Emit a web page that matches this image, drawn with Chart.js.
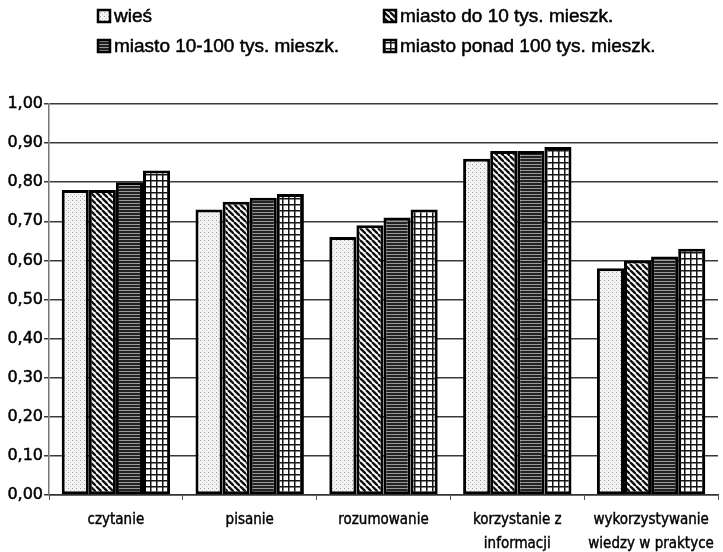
<!DOCTYPE html>
<html>
<head>
<meta charset="utf-8">
<script src="https://cdn.jsdelivr.net/npm/chart.js@4.4.1/dist/chart.umd.min.js"></script>
<style>
  html, body { margin: 0; padding: 0; background: #fff; }
  #wrap { width: 723px; height: 552px; position: relative; }
</style>
</head>
<body>
<div id="wrap"><canvas id="c" width="723" height="552"></canvas></div>
<script>
// Skill categories (x axis)
const categories = [
  'czytanie',
  'pisanie',
  'rozumowanie',
  ['korzystanie z', 'informacji'],
  ['wykorzystywanie', 'wiedzy w praktyce']
];

// Place-of-residence series
const seriesNames = [
  'wieś',
  'miasto do 10 tys. mieszk.',
  'miasto 10-100 tys. mieszk.',
  'miasto ponad 100 tys. mieszk.'
];
const wies         = [0.78, 0.73, 0.66, 0.86, 0.58];
const miastoDo10   = [0.78, 0.75, 0.69, 0.88, 0.60];
const miasto10_100 = [0.80, 0.76, 0.71, 0.88, 0.61];
const miastoPonad  = [0.83, 0.77, 0.73, 0.89, 0.63];

const yTicks = [0, 0.1, 0.2, 0.3, 0.4, 0.5, 0.6, 0.7, 0.8, 0.9, 1.0];

// --- fill patterns (black & white print style) ---
function makePattern(size, draw) {
  const c = document.createElement('canvas');
  c.width = size; c.height = size;
  const g = c.getContext('2d');
  draw(g, size);
  return g.createPattern(c, 'repeat');
}
const ctxMain = document.getElementById('c').getContext('2d');

const dotted = makePattern(4, (g, s) => {
  g.fillStyle = '#f3f3f3'; g.fillRect(0, 0, s, s);
  g.fillStyle = '#9a9a9a'; g.fillRect(0, 0, 1, 1);
  g.fillStyle = '#c8c8c8'; g.fillRect(2, 2, 1, 1);
});
const diagonal = makePattern(6, (g, s) => {
  g.fillStyle = '#fff'; g.fillRect(0, 0, s, s);
  g.strokeStyle = '#111'; g.lineWidth = 2.4;
  for (let k = -1; k <= 1; k++) {
    g.beginPath();
    g.moveTo(k * s, 0); g.lineTo(k * s + s, s);
    g.stroke();
  }
});
const horizontal = makePattern(3, (g, s) => {
  g.fillStyle = '#9a9a9a'; g.fillRect(0, 0, s, s);
  g.fillStyle = '#222'; g.fillRect(0, 0, s, 2);
});
const grid = makePattern(6, (g, s) => {
  g.fillStyle = '#fff'; g.fillRect(0, 0, s, s);
  g.fillStyle = '#151515';
  g.fillRect(0, 0, s, 1.5);
  g.fillRect(0, 0, 1.5, s);
});
const fills = [dotted, diagonal, horizontal, grid];
const seriesData = [wies, miastoDo10, miasto10_100, miastoPonad];

// Two-column legend above the plot
const legendPlugin = {
  id: 'twoColLegend',
  afterDraw(chart) {
    const g = chart.ctx;
    const pos = [[97, 16], [383, 16], [97, 46], [383, 46]];
    g.save();
    g.font = '19px "Liberation Sans", Arial, sans-serif';
    g.textBaseline = 'middle';
    chart.data.datasets.forEach((ds, i) => {
      const [x, y] = pos[i];
      g.fillStyle = ds.backgroundColor;
      g.fillRect(x, y - 7, 14, 14);
      g.strokeStyle = '#000'; g.lineWidth = 2.5;
      g.strokeRect(x + 1, y - 6, 12, 12);
      g.fillStyle = '#000';
      g.strokeStyle = '#000'; g.lineWidth = 0.5;
      g.fillText(ds.label, x + 17, y + 1);
      g.strokeText(ds.label, x + 17, y + 1);
    });
    g.restore();
  }
};

new Chart(ctxMain, {
  type: 'bar',
  data: {
    labels: categories,
    datasets: seriesNames.map((name, i) => ({
      label: name,
      data: seriesData[i],
      backgroundColor: fills[i],
      borderColor: '#000',
      borderWidth: 3,
      borderSkipped: false,
      categoryPercentage: 0.81,
      barPercentage: 1.0
    }))
  },
  options: {
    responsive: false,
    animation: false,
    layout: { padding: { top: 104, right: 5, left: 0, bottom: 0 } },
    plugins: { legend: { display: false }, tooltip: { enabled: false } },
    scales: {
      x: {
        afterFit(scale) { scale.height = 57; },
        grid: { drawOnChartArea: false, offset: true, tickLength: 5, color: '#555', lineWidth: 1 },
        border: { display: true, color: '#333', width: 1.5 },
        ticks: {
          color: '#000',
          padding: 8,
          maxRotation: 0,
          autoSkip: false,
          textStrokeColor: '#000',
          textStrokeWidth: 0.4,
          font: { family: '"DejaVu Sans Condensed", "DejaVu Sans", sans-serif', size: 15, lineHeight: 1.6 }
        }
      },
      y: {
        min: 0,
        max: 1,
        afterBuildTicks(scale) { scale.ticks = yTicks.map(v => ({ value: v })); },
        afterFit(scale) { scale.width = 49; },
        grid: { color: '#3a3a3a', lineWidth: 1.5, tickLength: 5, drawTicks: true },
        border: { display: true, color: '#777', width: 1.5 },
        ticks: {
          color: '#000',
          padding: 1,
          textStrokeColor: '#000',
          textStrokeWidth: 0.5,
          font: { family: '"DejaVu Sans", sans-serif', size: 16 },
          callback: v => v.toFixed(2).replace('.', ',')
        }
      }
    }
  },
  plugins: [legendPlugin]
});
</script>
</body>
</html>
